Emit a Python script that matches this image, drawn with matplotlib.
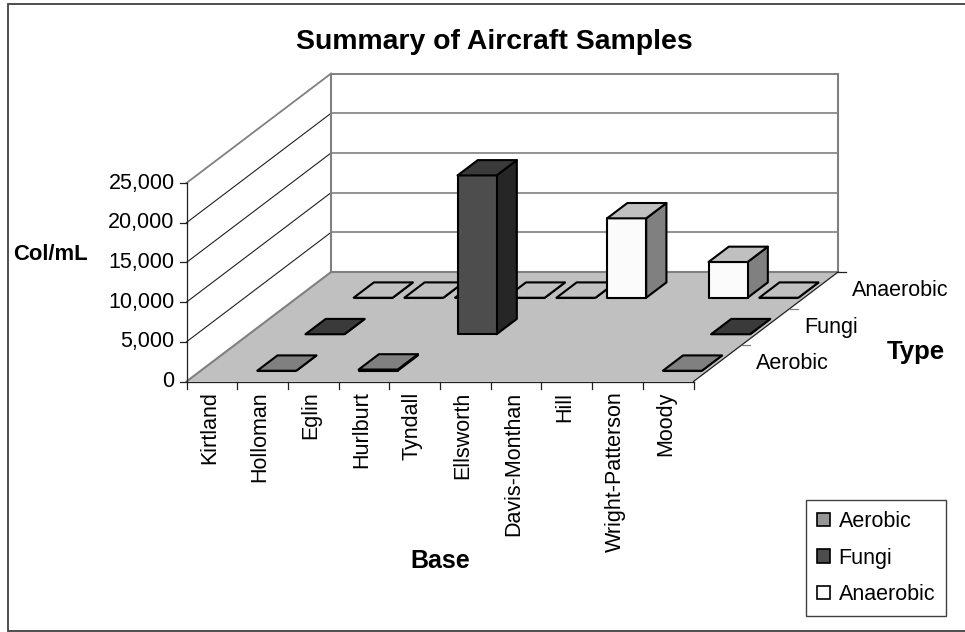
import numpy as np
import matplotlib
matplotlib.use("Agg")
import matplotlib.pyplot as plt
from matplotlib.patches import Polygon, Patch, Rectangle

plt.rcParams['font.family'] = ['Liberation Sans', 'DejaVu Sans']

TITLE = "Summary of Aircraft Samples"
BASES = ["Kirtland", "Holloman", "Eglin", "Hurlburt", "Tyndall", "Ellsworth",
         "Davis-Monthan", "Hill", "Wright-Patterson", "Moody"]
TYPES = ["Aerobic", "Fungi", "Anaerobic"]
nan = float('nan')
AEROBIC = [nan, 0, nan, 150, nan, nan, nan, nan, nan, 0]
FUNGI = [nan, 0, nan, nan, 20000, nan, nan, nan, nan, 0]
ANAEROBIC = [nan, 0, 0, 0, 0, 0, 10000, nan, 4500, 0]
YTICKS = [0, 5000, 10000, 15000, 20000, 25000]

# face colours per series: front, top, side
COLORS = {"Aerobic": ("#969696", "#808080", "#606060"),
          "Fungi": ("#4d4d4d", "#3a3a3a", "#262626"),
          "Anaerobic": ("#fbfbfb", "#c0c0c0", "#808080")}
LEGEND_COLORS = ["#969696", "#4d4d4d", "#fbfbfb"]

# oblique projection of the chart box onto the figure (pixel coordinates)
X0, Y0 = 186.5, 381.5
DX_CAT = 50.7
DX_SER, DY_SER = 48.2, 36.5
PX_PER_UNIT = 198.5 / 25000
GAP = 0.115
D0, D1 = 0.295, 0.715


def P(c, u, v=0):
    return (X0 + DX_CAT * c + DX_SER * u, Y0 - DY_SER * u - PX_PER_UNIT * v)


fig = plt.figure(figsize=(9.65, 6.32), dpi=100)
ax = fig.add_axes([0, 0, 1, 1])
ax.set_xlim(0, 965)
ax.set_ylim(632, 0)
ax.axis('off')

NC, NS, VMAX = len(BASES), len(TYPES), YTICKS[-1]
GRAY = "#808080"
DARK = "#202020"

# chart frame (its right edge falls outside the picture)
ax.add_patch(Rectangle((7.5, 4.2), 965, 626.6, fc='white', ec='#404040', lw=1.3, zorder=0))

# floor
ax.add_patch(Polygon([P(0, 0), P(NC, 0), P(NC, NS), P(0, NS)], closed=True, fc='#c0c0c0', ec='none', zorder=1))

# walls and gridlines
for v in YTICKS[1:-1]:
    ax.plot(*zip(P(0, 0, v), P(0, NS, v)), color=DARK, lw=0.8, zorder=2)
    ax.plot(*zip(P(0, NS, v), P(NC, NS, v)), color=GRAY, lw=1.2, zorder=2)
ax.plot(*zip(P(0, 0, VMAX), P(0, NS, VMAX)), color=GRAY, lw=1.3, zorder=2)
ax.plot(*zip(P(0, NS, VMAX), P(NC, NS, VMAX)), color=GRAY, lw=1.4, zorder=2)
ax.plot(*zip(P(0, 0), P(0, NS)), color=GRAY, lw=1.5, zorder=2)
ax.plot(*zip(P(0, NS), P(NC, NS)), color=GRAY, lw=1.5, zorder=2)
ax.plot(*zip(P(0, NS), P(0, NS, VMAX)), color=GRAY, lw=1.5, zorder=2)
ax.plot(*zip(P(NC, NS), P(NC, NS, VMAX)), color=GRAY, lw=1.5, zorder=2)

# axes and ticks
ax.plot(*zip(P(0, 0), P(0, 0, VMAX)), color=DARK, lw=0.9, zorder=3)
ax.plot(*zip(P(0, 0), P(NC, 0)), color=DARK, lw=0.9, zorder=3)
ax.plot(*zip(P(NC, 0), P(NC, NS)), color=DARK, lw=0.9, zorder=3)
for v in YTICKS:
    x, y = P(0, 0, v)
    ax.plot([x - 7, x], [y, y], color=DARK, lw=0.9, zorder=3)
    ax.text(x - 12, y, f"{v:,}", ha='right', va='center', fontsize=15.5, color='black')
for c in range(NC + 1):
    x, y = P(c, 0)
    ax.plot([x, x], [y, y + 7], color=DARK, lw=0.9, zorder=3)
for c, name in enumerate(BASES):
    x, y = P(c + 0.5, 0)
    ax.text(x - 2.5, y + 10, name, rotation=90, ha='center', va='top', fontsize=15.5, color='black')
for s in range(1, NS + 1):
    x, y = P(NC, s)
    ax.plot([x, x + 8], [y, y], color=GRAY if s < NS else DARK, lw=0.9, zorder=3)
for s, name in enumerate(TYPES):
    x, y = P(NC, s + 0.5)
    ax.text(x + 38, y + 0.5, name, ha='left', va='center', fontsize=15.5, color='black')

# bars, back row first
series = [AEROBIC, FUNGI, ANAEROBIC]
for s in range(NS - 1, -1, -1):
    front, top, side = COLORS[TYPES[s]]
    for c, v in enumerate(series[s]):
        if np.isnan(v):
            continue
        a, b = c + GAP, c + 1 - GAP
        u0, u1 = s + D0, s + D1
        z = 10 + (NS - s) * 100 + c
        kw = dict(closed=True, ec='black', lw=1.5, joinstyle='round', zorder=z)
        ax.add_patch(Polygon([P(b, u0), P(b, u1), P(b, u1, v), P(b, u0, v)], fc=side, **kw))
        ax.add_patch(Polygon([P(a, u0), P(b, u0), P(b, u0, v), P(a, u0, v)], fc=front, **kw))
        ax.add_patch(Polygon([P(a, u0, v), P(b, u0, v), P(b, u1, v), P(a, u1, v)], fc=top, **kw))

# titles
ax.text(494, 42, TITLE, ha='center', va='center', fontsize=20.4, fontweight='bold', color='black')
ax.text(50.5, 255, "Col/mL", ha='center', va='center', fontsize=15.8, fontweight='bold', color='black')
ax.text(440.5, 561.5, "Base", ha='center', va='center', fontsize=18, fontweight='bold', color='black')
ax.text(916, 352, "Type", ha='center', va='center', fontsize=18.5, fontweight='bold', color='black')

# legend
handles = [Patch(fc=col, ec='black', lw=1.2, label=name) for name, col in zip(TYPES, LEGEND_COLORS)]
leg = ax.legend(handles=handles, loc='lower right', bbox_to_anchor=(946, 616),
                bbox_transform=ax.transData, borderaxespad=0, fontsize=15.5,
                fancybox=False, framealpha=1, edgecolor='#404040',
                labelspacing=0.72, handlelength=0.6, handleheight=0.6,
                handletextpad=0.4, borderpad=0.5)
leg.get_frame().set_linewidth(1.0)
leg.set_zorder(5000)

fig.savefig("out.png", dpi=100)
